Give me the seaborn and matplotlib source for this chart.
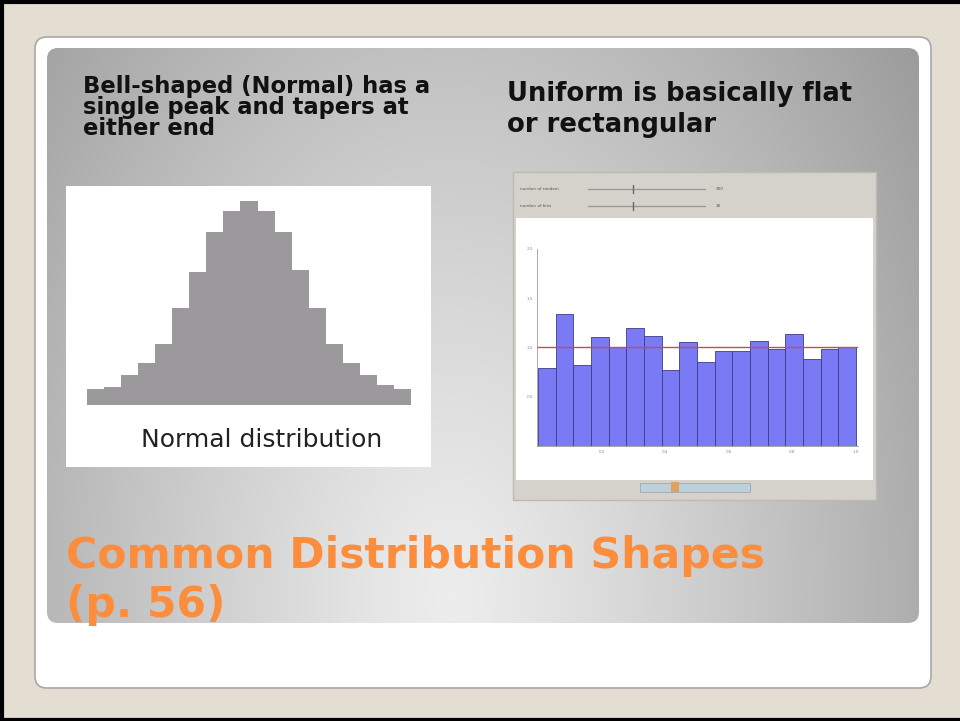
import numpy as np
import pandas as pd
import seaborn as sns
import matplotlib.pyplot as plt
from matplotlib.patches import FancyBboxPatch, Rectangle

# values
normal_counts = [16, 18, 29, 41, 60, 95, 130, 169, 190, 200, 190, 169, 132, 95, 60, 41, 29, 20, 16]
uniform_density = [0.79, 1.34, 0.82, 1.11, 1.01, 1.20, 1.12, 0.77, 1.06,
                   0.85, 0.96, 0.96, 1.07, 0.98, 1.14, 0.88, 0.98, 1.01]
uniform_level = 1.0
uniform_yticks = [0.5, 1.0, 1.5, 2.0]
uniform_xticks = [0.2, 0.4, 0.6, 0.8, 1.0]
slider_labels = ["number of random", "number of bins"]
slider_values = ["300", "18"]

left_text = "Bell-shaped (Normal) has a\nsingle peak and tapers at\neither end"
right_text = "Uniform is basically flat\nor rectangular"
title_text = "Common Distribution Shapes\n(p. 56)"
normal_label = "Normal distribution"

W, H = 960, 721


def px_rect(x0, y0, x1, y1):
    return [x0 / W, 1 - y1 / H, (x1 - x0) / W, (y1 - y0) / H]


sns.set_style("white")
plt.rcParams['font.family'] = ['DejaVu Sans']

fig = plt.figure(figsize=(9.6, 7.21), dpi=100)
fig.patch.set_facecolor('#e3ddd2')

# background slide, pixel coordinates
bg = fig.add_axes([0, 0, 1, 1])
bg.set_xlim(0, W)
bg.set_ylim(H, 0)
bg.axis('off')

# black frame (left, top, bottom)
bg.plot([1.5, 1.5], [0, H], color='black', lw=3)
bg.plot([0, W], [1.5, 1.5], color='black', lw=3)
bg.plot([0, W], [H - 1.5, H - 1.5], color='black', lw=3)

# white card
card = FancyBboxPatch((35, 37), 896, 651, boxstyle="round,pad=0,rounding_size=12",
                      facecolor='white', edgecolor='#a8a8a8', lw=1.2)
bg.add_patch(card)

# gray gradient panel
panel = FancyBboxPatch((47, 48), 872, 575, boxstyle="round,pad=0,rounding_size=11",
                       facecolor='none', edgecolor='none')
bg.add_patch(panel)
gx = np.linspace(47, 919, 300)
gy = np.linspace(48, 623, 200)
GX, GY = np.meshgrid(gx, gy)
r = np.sqrt(((GX - 450) / 470) ** 2 + ((GY - 600) / 760) ** 2)
shade = np.clip(0.93 - 0.25 * r ** 1.15, 0.58, 0.95)
img = bg.imshow(np.dstack([shade, shade, shade]), extent=[47, 919, 623, 48],
                aspect='auto', zorder=1)
img.set_clip_path(panel)

# white box behind the normal histogram
bg.add_patch(Rectangle((66, 186), 365, 281, facecolor='white', edgecolor='none', zorder=2))

# screenshot frame of the uniform applet
bg.add_patch(Rectangle((513, 172), 363, 328, facecolor='#d5d2cc', edgecolor='#bdbab4', lw=1, zorder=2))
bg.add_patch(Rectangle((516, 218), 357, 262, facecolor='white', edgecolor='none', zorder=3))
for i, (lab, val) in enumerate(zip(slider_labels, slider_values)):
    yy = 189 + i * 17
    bg.text(520, yy, lab, fontsize=3, color='#555555', va='center', zorder=4)
    bg.plot([588, 705], [yy, yy], color='#9a9a9a', lw=1, zorder=4)
    bg.plot([633, 633], [yy - 4, yy + 4], color='#666666', lw=1, zorder=5)
    bg.text(716, yy, val, fontsize=3, color='#555555', va='center', zorder=4)
bg.add_patch(Rectangle((640, 483), 110, 9, facecolor='#bcd0dc', edgecolor='#a0a0a0', lw=0.5, zorder=4))
bg.add_patch(Rectangle((671, 482), 8, 10, facecolor='#e0a060', edgecolor='none', zorder=5))

# texts
bg.text(83, 75, left_text, fontsize=16.3, fontweight='bold', color='#111111',
        va='top', ha='left', linespacing=0.9, zorder=5)
bg.text(507, 81, right_text, fontsize=18.6, fontweight='bold', color='#111111',
        va='top', ha='left', linespacing=1.24, zorder=5)
bg.text(66, 535, title_text, fontsize=30.6, fontweight='bold', color='#fb8d3d',
        va='top', ha='left', linespacing=1.22, zorder=5)
bg.text(262, 440, normal_label, fontsize=18, color='#222222',
        va='center', ha='center', zorder=5)

# normal histogram
n_bins = len(normal_counts)
df_n = pd.DataFrame({'x': np.arange(n_bins) + 0.5, 'w': normal_counts})
ax1 = fig.add_axes(px_rect(87, 200.5, 411, 405))
sns.histplot(data=df_n, x='x', weights='w', bins=n_bins, binrange=(0, n_bins),
             element='step', fill=True, color='#9b999b', alpha=1, linewidth=0, ax=ax1)
ax1.set_xlim(0, n_bins)
ax1.set_ylim(0, max(normal_counts))
ax1.axis('off')

# uniform histogram
u_bins = len(uniform_density)
df_u = pd.DataFrame({'x': (np.arange(u_bins) + 0.5) / u_bins, 'w': uniform_density})
ax2 = fig.add_axes(px_rect(537, 249, 858, 446))
sns.histplot(data=df_u, x='x', weights='w', bins=u_bins, binrange=(0, 1),
             color='#7a7af4', alpha=1, edgecolor='#3c3c8c', linewidth=0.6, ax=ax2)
ax2.axhline(uniform_level, color='#c0504d', lw=1)
ax2.set_xlim(-0.003, 1.006)
ax2.set_ylim(0, 2.0)
ax2.set_yticks(uniform_yticks)
ax2.set_xticks(uniform_xticks)
ax2.set_xlabel('')
ax2.set_ylabel('')
ax2.patch.set_alpha(0)
for s in ['top', 'right']:
    ax2.spines[s].set_visible(False)
for s in ['left', 'bottom']:
    ax2.spines[s].set_color('#999999')
    ax2.spines[s].set_linewidth(0.6)
ax2.tick_params(labelsize=3, colors='#888888', length=2, width=0.5, pad=1)

fig.savefig('out.png', dpi=100, facecolor=fig.get_facecolor())
